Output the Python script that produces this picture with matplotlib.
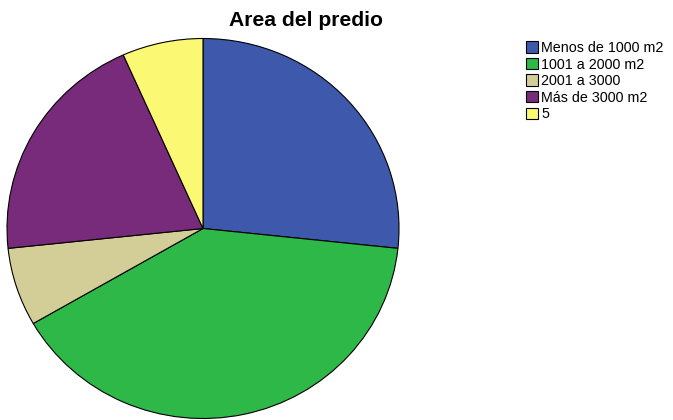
import matplotlib
matplotlib.use('Agg')
import matplotlib.pyplot as plt

plt.rcParams['font.family'] = ['Liberation Sans', 'DejaVu Sans']

# Conteo por categoria de area
CATEGORIES = ['Menos de 1000 m2', '1001 a 2000 m2', '2001 a 3000',
              'Más de 3000 m2', '5']
COUNTS = [4, 6, 1, 3, 1]
COLORS = ['#3E58AC', '#2EB848', '#D3CE97', '#782A7B', '#FBF873']

W, H = 673, 420
fig = plt.figure(figsize=(W / 100, H / 100), dpi=100)

# pie centre in px from top-left, horizontal / vertical radius (slightly oval)
cx, cy, rx, ry = 203, 228.5, 196, 190
ax = fig.add_axes([(cx - rx) / W, (H - cy - ry) / H, 2 * rx / W, 2 * ry / H])
wedges, _ = ax.pie(COUNTS, colors=COLORS, startangle=90, counterclock=False,
                   radius=1, wedgeprops=dict(edgecolor='black', linewidth=0.8))
for w in wedges:
    w.set_clip_on(False)
ax.set_xlim(-1, 1)
ax.set_ylim(-1, 1)
ax.set_aspect('auto')
ax.axis('off')

fig.text(306 / W, 1 - 20 / H, 'Area del predio', ha='center', va='center',
         fontsize=15.2, fontweight='bold')

fig.legend(wedges, CATEGORIES, loc='upper left',
           bbox_to_anchor=(526 / W, 1 - 41 / H), frameon=False,
           fontsize=10.3, handlelength=0.85, handleheight=0.85,
           handletextpad=0.2, labelspacing=0.18, borderpad=0,
           borderaxespad=0)

fig.savefig('out.png', dpi=100)
